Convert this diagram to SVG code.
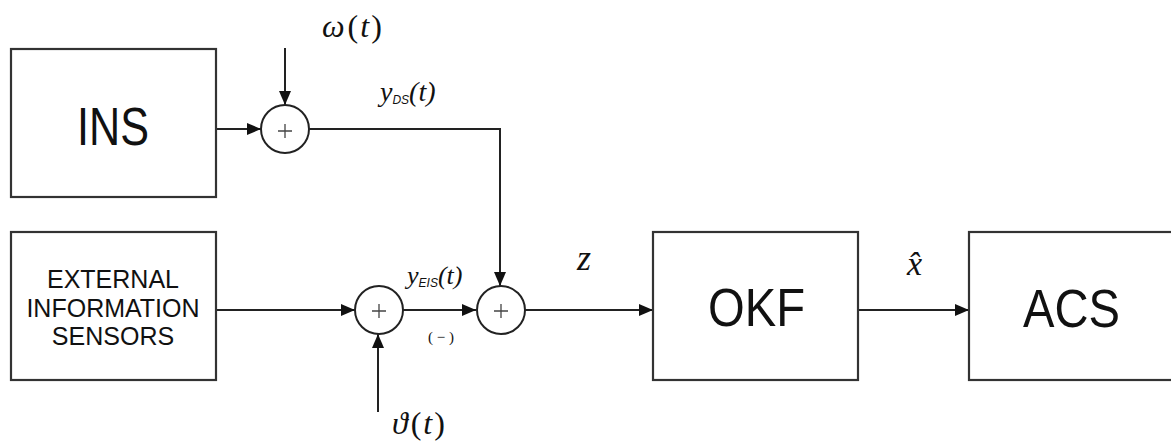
<svg xmlns="http://www.w3.org/2000/svg" width="1171" height="443" viewBox="0 0 1171 443">
<style>
.box{fill:#fff;stroke:#333;stroke-width:2.2}
.sum{fill:#fff;stroke:#222;stroke-width:2}
.plus{stroke:#444;stroke-width:1.3}
.ln{fill:none;stroke:#222;stroke-width:2}
.big{font-family:"Liberation Sans",Arial,sans-serif;font-size:53px;fill:#111}
.lbl{font-family:"Liberation Sans",Arial,sans-serif;font-size:25px;fill:#111;text-anchor:middle}
.m{font-family:"Liberation Serif","Times New Roman",serif;fill:#111}
.i{font-style:italic}
.sub{font-family:"Liberation Sans",Arial,sans-serif;font-style:italic;font-size:12px}
</style>
<defs>
<marker id="ah" markerUnits="userSpaceOnUse" markerWidth="14" markerHeight="14" viewBox="0 0 14 14" refX="14" refY="7" orient="auto">
<path d="M0,1 L14,7 L0,13 Z" fill="#111"/>
</marker>
</defs>
<rect width="1171" height="443" fill="#fff"/>
<g id="connectors">
<line class="ln" x1="216" y1="129" x2="261" y2="129" marker-end="url(#ah)"/>
<line class="ln" x1="285" y1="48" x2="285" y2="105" marker-end="url(#ah)"/>
<polyline class="ln" points="309,129 500,129 500,286" marker-end="url(#ah)"/>
<line class="ln" x1="216" y1="310" x2="355" y2="310" marker-end="url(#ah)"/>
<line class="ln" x1="378" y1="412" x2="378" y2="334" marker-end="url(#ah)"/>
<line class="ln" x1="403" y1="310" x2="476" y2="310" marker-end="url(#ah)"/>
<line class="ln" x1="524" y1="310" x2="653" y2="310" marker-end="url(#ah)"/>
<line class="ln" x1="858" y1="310" x2="969" y2="310" marker-end="url(#ah)"/>
</g>
<g id="ins">
<rect class="box" x="11" y="49" width="205" height="148"/>
<text class="big" x="77" y="145" textLength="72" lengthAdjust="spacingAndGlyphs">INS</text>
</g>
<g id="eis">
<rect class="box" x="11" y="232" width="205" height="148"/>
<text class="lbl" x="113" y="288">EXTERNAL</text>
<text class="lbl" x="113" y="317">INFORMATION</text>
<text class="lbl" x="113" y="345">SENSORS</text>
</g>
<g id="sum1">
<circle class="sum" cx="285" cy="129" r="24"/>
<path class="plus" d="M278,131 H292 M285,124 V138"/>
</g>
<g id="sum2">
<circle class="sum" cx="379" cy="310" r="24"/>
<path class="plus" d="M372,311 H386 M379,304 V318"/>
</g>
<g id="sum3">
<circle class="sum" cx="501" cy="310" r="24"/>
<path class="plus" d="M494,311 H508 M501,304 V318"/>
</g>
<g id="okf">
<rect class="box" x="653" y="232" width="205" height="148"/>
<text class="big" x="708" y="326" textLength="97" lengthAdjust="spacingAndGlyphs">OKF</text>
</g>
<g id="acs">
<rect class="box" x="969" y="232" width="215" height="148"/>
<text class="big" x="1023" y="327" textLength="97" lengthAdjust="spacingAndGlyphs">ACS</text>
</g>
<g id="labels">
<text class="m" x="322" y="37" font-size="32"><tspan class="i">ω</tspan><tspan dx="3">(</tspan><tspan class="i" dx="2">t</tspan><tspan dx="2">)</tspan></text>
<text class="m" x="380" y="101" font-size="28"><tspan class="i">y</tspan><tspan class="sub" dy="3">DS</tspan><tspan class="i" dy="-3">(t)</tspan></text>
<text class="m" x="407" y="284" font-size="26"><tspan class="i">y</tspan><tspan class="sub" dy="3">EIS</tspan><tspan class="i" dy="-3">(t)</tspan></text>
<text class="m" x="428" y="342" font-size="15" fill="#444">( − )</text>
<text class="m" x="392" y="434" font-size="32"><tspan class="i">ϑ</tspan><tspan dx="3">(</tspan><tspan class="i" dx="2">t</tspan><tspan dx="2">)</tspan></text>
<text class="m i" x="577" y="270" font-size="36">z</text>
<text class="m i" x="907" y="275" font-size="34">x̂</text>
</g>
</svg>
